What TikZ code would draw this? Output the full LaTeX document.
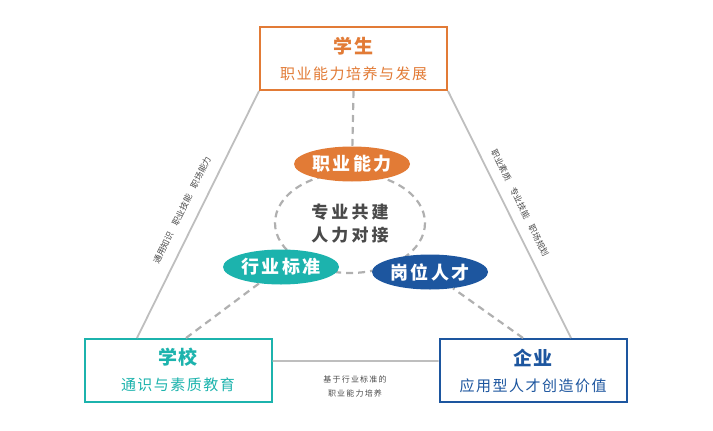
\documentclass[tikz,border=0pt]{standalone}
\usepackage{fontspec}
\setmainfont{Noto Sans CJK SC}
\usepackage{tikz}
\usetikzlibrary{shapes.geometric}
\definecolor{stuorange}{HTML}{E27B36}
\definecolor{schteal}{HTML}{1CB3AD}
\definecolor{firmblue}{HTML}{1D569F}
\definecolor{edgegray}{HTML}{BEBEBE}
\definecolor{dashgray}{HTML}{B0B0B0}
\definecolor{labelgray}{HTML}{4A4A4A}

\begin{document}
\begin{tikzpicture}[x=1pt,y=-1pt,
    box/.style={draw,line width=2pt,fill=white,minimum width=187pt,minimum height=63pt,inner sep=0pt,align=center,
      font=\fontsize{15}{26}\selectfont\addfontfeature{LetterSpace=10}},
    oval/.style={ellipse,minimum width=116pt,minimum height=35pt,inner sep=0pt,text=white,
      font=\fontsize{18}{20}\selectfont\bfseries\addfontfeature{LetterSpace=12}},
    edge/.style={line width=1.8pt,edgegray},
    link/.style={line width=2.2pt,dashgray,dash pattern=on 7pt off 5pt},
    side/.style={font=\fontsize{8.5}{10}\selectfont,text=labelgray,inner sep=0pt}]
    \useasboundingbox (0,0) rectangle (713,431);
    % inner ring
    \draw[link] (350,223) ellipse [x radius=75, y radius=50];
    \node at (352,164) [oval,fill=stuorange] (skill) {职业能力};
    \node at (281,267) [oval,fill=schteal] (standard) {行业标准};
    \node at (430,272) [oval,fill=firmblue] (talent) {岗位人才};
    \node at (350,224) [align=center,text=labelgray,font=\fontsize{17}{23}\selectfont\bfseries\addfontfeature{LetterSpace=18}] (core) {专业共建\\人力对接};
    % three boxes
    \node at (353.5,58.5) [box,draw=stuorange,text=stuorange] (student) {{\fontsize{19}{26}\selectfont\bfseries 学生}\\职业能力培养与发展};
    \node at (178,370) [box,draw=schteal,text=schteal] (school) {{\fontsize{19}{26}\selectfont\bfseries 学校}\\通识与素质教育};
    \node at (533,370.5) [box,draw=firmblue,text=firmblue] (firm) {{\fontsize{19}{26}\selectfont\bfseries 企业}\\应用型人才创造价值};
    % triangle
    \coordinate (l1) at (137,338);
    \coordinate (r1) at (571,338);
    \coordinate (b1) at (0,361);
    \draw[edge] (student.south west) -- (l1) (student.south east) -- (r1) (school.east |- b1) -- (firm.west |- b1);
    % dashed links
    \coordinate (d1) at (186,338);
    \coordinate (d2) at (523,338);
    \draw[link] (student.south) -- (skill) (d1) -- (standard) (d2) -- (talent);
    % notes
    \node at (182,210) [side,rotate=63.6] (leftnote) {通用知识\hspace{8pt}职业技能\hspace{8pt}职场能力};
    \node at (520,203) [side,rotate=-63.6] (rightnote) {职业素质\hspace{8pt}专业技能\hspace{8pt}职场规划};
    \node at (355,386) [align=center,text=labelgray,font=\fontsize{8}{14}\selectfont\addfontfeature{LetterSpace=15}] (note) {基于行业标准的\\职业能力培养};
\end{tikzpicture}
\end{document}
